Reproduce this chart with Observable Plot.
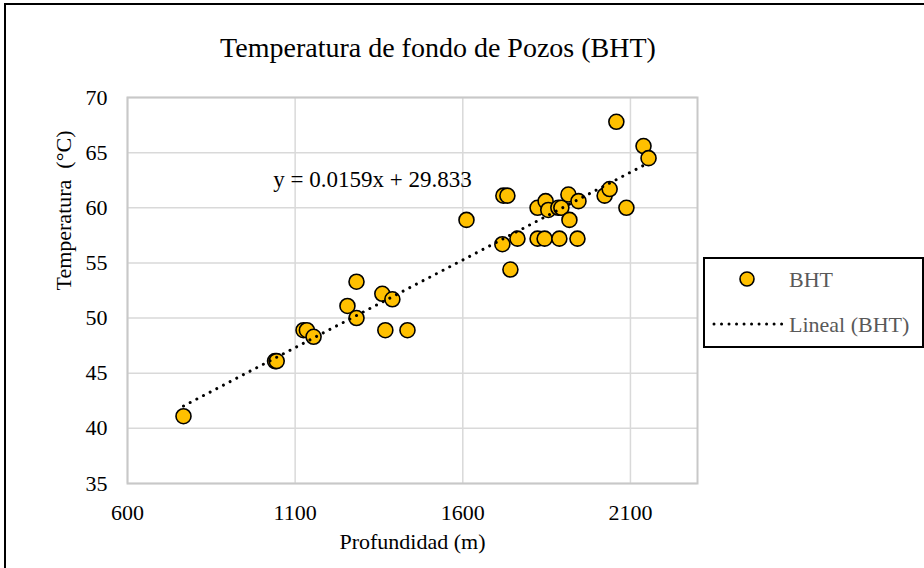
<!DOCTYPE html>
<html>
<head>
<meta charset="utf-8">
<script src="https://cdn.jsdelivr.net/npm/d3@7"></script>
<script src="https://cdn.jsdelivr.net/npm/@observablehq/plot@0.6"></script>
<style>
  html, body { margin: 0; padding: 0; background: #fff; }
  #wrap { position: relative; width: 924px; height: 568px; overflow: hidden; font-family: "Liberation Serif", "Times New Roman", serif; }
  #border { position: absolute; left: 4px; top: 3px; width: 960px; height: 600px; border: 2px solid #000; box-sizing: border-box; }
  #title { position: absolute; left: 0; top: 34px; width: 876px; text-align: center; font-size: 28px; line-height: 28px; color: #000; white-space: nowrap; }
  #chart { position: absolute; left: 0; top: 0; }
  #legend { position: absolute; left: 703px; top: 257px; width: 221px; height: 91px; border: 2px solid #000; box-sizing: border-box; background: #fff; }
</style>
</head>
<body>
<div id="wrap">
  <div id="border"></div>
  <div id="title"></div>
  <div id="chart"></div>
  <div id="legend"></div>
</div>
<script>
// ---- Data ----
const chartTitle = "Temperatura de fondo de Pozos (BHT)";
const xLabel = "Profundidad (m)";
const yLabel = "Temperatura\u00a0 (°C)";
const seriesName = "BHT";
const trendName = "Lineal (BHT)";

const depth = [767, 1040, 1045, 1125, 1135, 1155, 1256, 1283, 1283, 1360, 1390, 1369, 1435,
  1611, 1721, 1733, 1718, 1742, 1763, 1823, 1847, 1855, 1823, 1844, 1888, 1942,
  1885, 1894, 1918, 1915, 1945, 2023, 2038, 2058, 2088, 2139, 2154];
const temperature = [41.1, 46.1, 46.1, 48.9, 48.9, 48.3, 51.1, 50.0, 53.3, 52.2, 51.7, 48.9, 48.9,
  58.9, 61.1, 61.1, 56.7, 54.4, 57.2, 60.0, 60.6, 59.8, 57.2, 57.2, 57.2, 57.2,
  60.0, 60.0, 58.9, 61.2, 60.6, 61.1, 61.7, 67.8, 60.0, 65.6, 64.5];

const trendSlope = 0.0159;
const trendIntercept = 29.833;
const equationText = "y = 0.0159x + 29.833";
const equationAnchor = [1035, 62.57]; // data units (depth, temperature)

const xTicks = [600, 1100, 1600, 2100];
const yTicks = [35, 40, 45, 50, 55, 60, 65, 70];
const xDomain = [600, 2300];
const yDomain = [35, 70];

// ---- Derived tables ----
const points = depth.map((d, i) => ({depth: d, temp: temperature[i]}));
const xExtent = d3.extent(depth);
const trend = xExtent.map(x => ({depth: x, temp: trendSlope * x + trendIntercept}));

document.getElementById("title").textContent = chartTitle;

const font = "'Liberation Serif', 'Times New Roman', serif";

const chart = Plot.plot({
  width: 924,
  height: 568,
  marginLeft: 127,
  marginRight: 227,
  marginTop: 97,
  marginBottom: 85,
  style: {fontFamily: font, fontSize: "22px", color: "#000", background: "transparent", overflow: "visible"},
  x: {domain: xDomain},
  y: {domain: yDomain},
  marks: [
    Plot.gridX(xTicks, {stroke: "#d9d9d9", strokeOpacity: 1, strokeWidth: 1.5}),
    Plot.gridY(yTicks, {stroke: "#d9d9d9", strokeOpacity: 1, strokeWidth: 1.5}),
    Plot.frame({stroke: "#c8c8c8", strokeWidth: 2}),
    Plot.axisX(xTicks, {tickSize: 0, tickPadding: 21, label: null, fontSize: 22, tickFormat: d => String(d)}),
    Plot.axisY(yTicks, {tickSize: 0, tickPadding: 20, label: null, fontSize: 22, tickFormat: d => String(d)}),
    Plot.dot(points, {x: "depth", y: "temp", r: 7.5, fill: "#FFC000", stroke: "#000", strokeWidth: 1.6}),
    Plot.line(trend, {x: "depth", y: "temp", stroke: "#000", strokeWidth: 3, strokeDasharray: "0.01 7.5", strokeLinecap: "round"}),
    Plot.text([equationText], {x: () => equationAnchor[0], y: () => equationAnchor[1], text: d => d, textAnchor: "start", fontSize: 23, fill: "#000"}),
    Plot.text([xLabel], {frameAnchor: "bottom", dy: 65, text: d => d, fontSize: 22, fill: "#000"}),
    Plot.text([yLabel], {frameAnchor: "left", dx: -64, rotate: -90, text: d => d, fontSize: 22, fill: "#000"})
  ]
});
document.getElementById("chart").appendChild(chart);

// ---- Legend ----
const legend = d3.select("#legend");
const lsvg = legend.append("svg").attr("width", 240).attr("height", 90)
  .style("position", "absolute").style("left", "-2px").style("top", "-2px")
  .style("font-family", font);
lsvg.append("circle").attr("cx", 44).attr("cy", 22).attr("r", 7)
  .attr("fill", "#FFC000").attr("stroke", "#000").attr("stroke-width", 1.6);
lsvg.append("text").attr("x", 86).attr("y", 22).attr("dy", "0.35em")
  .attr("font-size", 22).attr("fill", "#595959").text(seriesName);
lsvg.append("line").attr("x1", 11).attr("x2", 79).attr("y1", 67).attr("y2", 67)
  .attr("stroke", "#000").attr("stroke-width", 3).attr("stroke-dasharray", "0.01 7.5").attr("stroke-linecap", "round");
lsvg.append("text").attr("x", 86).attr("y", 67).attr("dy", "0.35em")
  .attr("font-size", 22).attr("fill", "#595959").text(trendName);
</script>
</body>
</html>
